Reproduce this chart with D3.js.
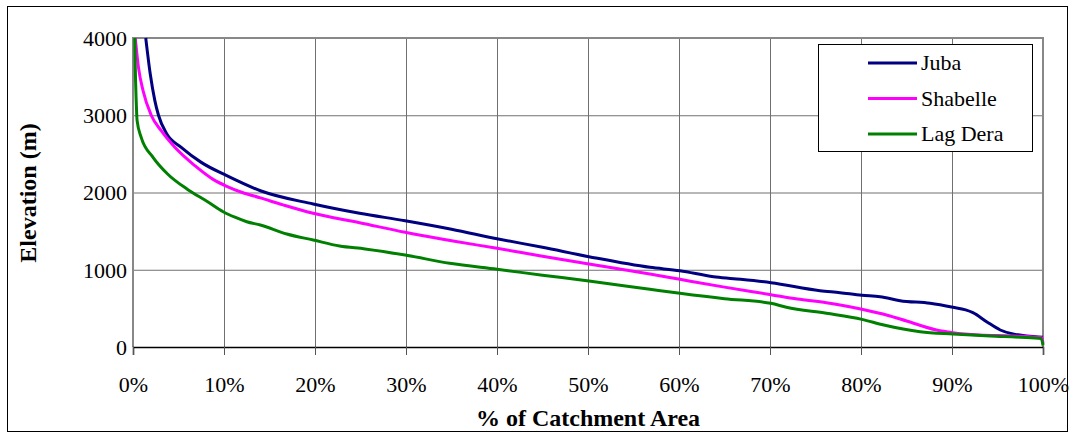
<!DOCTYPE html>
<html>
<head>
<meta charset="utf-8">
<script src="https://cdn.jsdelivr.net/npm/d3@7/dist/d3.min.js"></script>
<style>
  html, body { margin: 0; padding: 0; background: #fff; }
  svg { display: block; }
  svg text { font-family: "Liberation Serif", "Times New Roman", Times, "DejaVu Serif", serif !important; fill: #000; }
</style>
</head>
<body>
<svg id="chart" width="1075" height="438"></svg>
<script>
// Hypsometric curves: elevation vs cumulative % of catchment area
const xTicks = [0, 10, 20, 30, 40, 50, 60, 70, 80, 90, 100];
const yTicks = [0, 1000, 2000, 3000, 4000];

const seriesNames = ["Juba", "Shabelle", "Lag Dera"];
const seriesColors = ["#000080", "#FF00FF", "#008000"];

// [% of catchment area, elevation (m)]
const juba = [
  [1.4, 4000], [1.9, 3530], [2.4, 3190], [2.8, 3000], [3.7, 2760], [5.3, 2585],
  [7.5, 2390], [10.3, 2218], [14, 2023], [19.8, 1851], [24.9, 1731], [29.9, 1635],
  [35, 1525], [40, 1402], [45, 1290], [50.1, 1169], [56.8, 1031], [60.1, 987],
  [63.8, 910], [66, 885], [70.1, 833], [75.5, 729], [77.7, 703], [80.1, 669],
  [82.1, 651], [84.3, 600], [87.6, 565], [90.1, 514], [91.5, 480], [92.3, 444],
  [93.8, 328], [95.3, 220], [96.7, 168], [98.2, 142], [100, 126]
];
const shabelle = [
  [0.25, 4000], [0.6, 3620], [1.1, 3320], [2.0, 3000], [3.1, 2800], [4.6, 2585],
  [6.8, 2347], [8.8, 2170], [10.3, 2080], [12, 2000], [14, 1930], [16.5, 1840],
  [19.8, 1731], [24.9, 1609], [29.9, 1485], [35, 1375], [40, 1278], [45, 1175],
  [50.1, 1074], [56.8, 945], [60.1, 876], [65, 775], [70.1, 677], [73, 620],
  [76.2, 574], [80.1, 488], [82.8, 414], [85, 337], [88.3, 220], [90.1, 185],
  [93, 155], [96.7, 142], [99.9, 120], [100, 40]
];
const lagDera = [
  [0.2, 4000], [0.25, 3620], [0.35, 3190], [0.45, 2930], [0.9, 2714], [2.2, 2456],
  [3.8, 2240], [6.0, 2040], [8.2, 1880], [9.9, 1751], [11.2, 1680], [12.5, 1622],
  [14, 1579], [16.9, 1463], [19.8, 1385], [22.7, 1307], [25.5, 1270], [29.9, 1191],
  [34.8, 1083], [40, 1006], [45, 930], [50.1, 854], [56.8, 747], [60.1, 695],
  [65, 625], [70.1, 566], [71.8, 514], [76.2, 436], [80.1, 358], [82.5, 285],
  [86.5, 198], [90.1, 168], [94.2, 142], [97.5, 126], [99.8, 110], [100, 20]
];
const seriesData = [juba, shabelle, lagDera];

const svg = d3.select("#chart");
const plot = { left: 133, right: 1043, top: 38, bottom: 347 };

const x = d3.scaleLinear().domain([0, 100]).range([plot.left, plot.right]);
const y = d3.scaleLinear().domain([0, 4000]).range([plot.bottom, plot.top]);

// outer chart frame
svg.append("rect")
  .attr("x", 7.5).attr("y", 6.5).attr("width", 1060).attr("height", 425)
  .attr("fill", "#fff").attr("stroke", "#000").attr("stroke-width", 1);

// vertical gridlines
svg.append("g")
  .attr("transform", `translate(0,${plot.bottom})`)
  .call(d3.axisBottom(x).tickValues(xTicks).tickSize(-(plot.bottom - plot.top)).tickFormat(""))
  .call(g => g.select(".domain").remove())
  .call(g => g.selectAll("line").attr("stroke", "#707070"));

// horizontal gridlines
svg.append("g")
  .attr("transform", `translate(${plot.left},0)`)
  .call(d3.axisLeft(y).tickValues(yTicks).tickSize(-(plot.right - plot.left)).tickFormat(""))
  .call(g => g.select(".domain").remove())
  .call(g => g.selectAll("line").attr("stroke", "#707070"));

// plot border top/right/left in grey
svg.append("path")
  .attr("d", `M${plot.left},${plot.bottom}V${plot.top}H${plot.right}V${plot.bottom}`)
  .attr("fill", "none").attr("stroke", "#888").attr("stroke-width", 2);

// x axis with tick marks and labels
const xAxis = svg.append("g")
  .attr("transform", `translate(0,${plot.bottom})`)
  .call(d3.axisBottom(x).tickValues(xTicks).tickSize(8).tickFormat(d => d + "%"));
xAxis.attr("font-family", null);
xAxis.select(".domain").attr("stroke", "#000").attr("stroke-width", 1.5);
xAxis.selectAll(".tick line").attr("stroke", "#555");
xAxis.selectAll("text")
  .attr("y", 45).attr("dy", 0)
  .style("font-size", "22px");

// y axis labels
const yAxis = svg.append("g")
  .attr("transform", `translate(${plot.left},0)`)
  .call(d3.axisLeft(y).tickValues(yTicks).tickSize(0).tickPadding(6).tickFormat(d3.format("d")));
yAxis.attr("font-family", null);
yAxis.select(".domain").remove();
yAxis.selectAll("text")
  .attr("dy", "0.34em")
  .style("font-size", "22px");

// series lines, smoothed through the sampled points
const line = d3.line().x(d => x(d[0])).y(d => y(d[1])).curve(d3.curveMonotoneX);
svg.append("g").selectAll("path")
  .data(seriesData)
  .join("path")
  .attr("d", line)
  .attr("fill", "none")
  .attr("stroke", (d, i) => seriesColors[i])
  .attr("stroke-width", 3)
  .attr("stroke-linejoin", "round");

// axis titles
svg.append("text")
  .attr("x", (plot.left + plot.right) / 2)
  .attr("y", 426)
  .attr("text-anchor", "middle")
  .style("font-size", "24px").style("font-weight", "bold")
  .text("% of Catchment Area");

svg.append("text")
  .attr("transform", "translate(36,193) rotate(-90)")
  .attr("text-anchor", "middle")
  .style("font-size", "24px").style("font-weight", "bold")
  .text("Elevation (m)");

// legend
const legend = svg.append("g").attr("transform", "translate(818,44)");
legend.append("rect")
  .attr("x", 0.5).attr("y", 0.5).attr("width", 214).attr("height", 107)
  .attr("fill", "#fff").attr("stroke", "#000").attr("stroke-width", 1);
const items = legend.selectAll("g.item")
  .data(seriesNames)
  .join("g")
  .attr("class", "item")
  .attr("transform", (d, i) => `translate(0,${19 + i * 35.5})`);
items.append("line")
  .attr("x1", 50).attr("x2", 99)
  .attr("stroke", (d, i) => seriesColors[i])
  .attr("stroke-width", 3);
items.append("text")
  .attr("x", 103).attr("dy", "0.34em")
  .style("font-size", "22px")
  .text(d => d);
</script>
</body>
</html>
